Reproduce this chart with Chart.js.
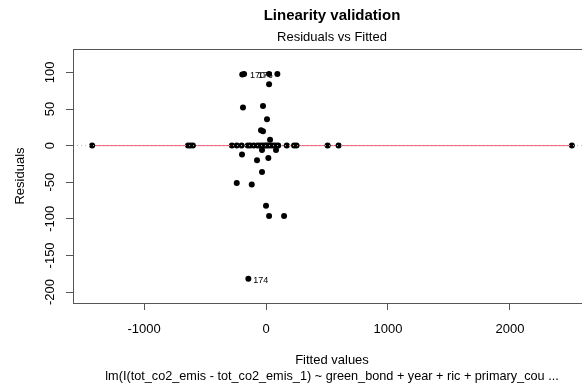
<!DOCTYPE html>
<html>
<head>
<meta charset="utf-8">
<script src="https://cdn.jsdelivr.net/npm/chart.js@4"></script>
<style>
html,body{margin:0;padding:0;background:#fff;overflow:hidden;}
canvas{display:block;}
</style>
</head>
<body>
<canvas id="c" width="600" height="385"></canvas>
<script>
// ---- data ----
const fittedZero = [-1426,-640,-620,-600,-280,-240,-200,-150,-130,-100,-70,-50,-30,-10,5,20,40,60,80,100,170,230,250,505,595,2508];
const residZero  = [0,0,0,0,0,0,0,0,0,0,0,0,0,0,0,0,0,0,0,0,0,0,0,0,0,0];
const fittedOther = [-195,-180,25,93,25,-189,-25,8,-41,-25,33,-197,-33,82,-74,19,-33,-240,-117,0,25,148,-145];
const residOther  = [97,98,98,98,84,52,54,36,21,19.5,8,-12,-6,-6,-20,-17,-36,-51,-53,-82,-96,-96,-182];
const smoothX = [-1426,-600,-200,0,200,600,2508];
const smoothY = [0,0,0,0,0,0,0];
const xTicks = [-1000,0,1000,2000];
const yTicks = [-200,-150,-100,-50,0,50,100];
const xRange = [-1583,2665];
const yRange = [-215,132];
const pointLabels = [
  {text:'174', x:-145, y:-182},
  {text:'170', x:-172, y:98},
  {text:'176', x:-108, y:98}
];
const titleText = 'Linearity validation';
const subTitleText = 'Residuals vs Fitted';
const xTitle = 'Fitted values';
const yTitle = 'Residuals';
const captionText = 'lm(I(tot_co2_emis - tot_co2_emis_1) ~ green_bond + year + ric + primary_cou ...';

const pts = [];
fittedZero.forEach((x,i)=>pts.push({x:x,y:residZero[i]}));
fittedOther.forEach((x,i)=>pts.push({x:x,y:residOther[i]}));

const FONT = "'Liberation Sans', Arial, Helvetica, sans-serif";

const decor = {
  id:'decor',
  afterDatasetsDraw(chart){
    const ctx = chart.ctx, a = chart.chartArea;
    const ys = chart.scales.y;
    // gray dotted zero line (drawn over, like abline)
    ctx.save();
    ctx.strokeStyle = '#bebebe';
    ctx.lineWidth = 1;
    ctx.setLineDash([1,3]);
    ctx.beginPath();
    const y0 = ys.getPixelForValue(0);
    ctx.moveTo(a.left, y0); ctx.lineTo(a.right, y0);
    ctx.stroke();
    ctx.restore();
  },
  afterDraw(chart){
    const ctx = chart.ctx, a = chart.chartArea;
    const xs = chart.scales.x, ys = chart.scales.y;
    ctx.save();
    // box
    ctx.strokeStyle = '#555';
    ctx.lineWidth = 1;
    ctx.strokeRect(a.left+0.5, a.top+0.5, a.right-a.left-1, a.bottom-a.top);
    ctx.fillStyle = '#000';
    // titles
    const cx = (a.left + a.right)/2;
    ctx.textAlign = 'center';
    ctx.textBaseline = 'middle';
    ctx.font = "bold 15px " + FONT;
    ctx.fillText(titleText, cx, 16);
    ctx.font = "13px " + FONT;
    ctx.fillText(subTitleText, cx, 37);
    ctx.fillText(xTitle, cx, 360);
    ctx.font = "12.7px " + FONT;
    ctx.fillText(captionText, cx, 376);
    ctx.font = "13px " + FONT;
    // x tick labels
    xTicks.forEach(v=>{
      ctx.fillText(String(v), xs.getPixelForValue(v), 329);
    });
    // y tick labels rotated
    yTicks.forEach(v=>{
      ctx.save();
      ctx.translate(50, ys.getPixelForValue(v));
      ctx.rotate(-Math.PI/2);
      ctx.fillText(String(v), 0, 0);
      ctx.restore();
    });
    ctx.save();
    ctx.translate(20, (a.top+a.bottom)/2);
    ctx.rotate(-Math.PI/2);
    ctx.fillText(yTitle, 0, 0);
    ctx.restore();
    // point labels
    ctx.textAlign = 'left';
    ctx.font = "9px " + FONT;
    pointLabels.forEach(p=>{
      ctx.fillText(p.text, xs.getPixelForValue(p.x)+5, ys.getPixelForValue(p.y)+2);
    });
    ctx.restore();
  }
};

new Chart(document.getElementById('c'), {
  type:'scatter',
  data:{
    datasets:[
      {
        type:'line',
        data: smoothX.map((x,i)=>({x:x,y:smoothY[i]})),
        borderColor:'#DF536B',
        borderWidth:1,
        pointRadius:0,
        fill:false,
        order:2
      },
      {
        data: pts,
        backgroundColor:'#000',
        borderColor:'#000',
        pointRadius:3,
        borderWidth:0,
        order:1
      }
    ]
  },
  options:{
    responsive:false,
    animation:false,
    events:[],
    layout:{padding:{top:49,right:9,left:0,bottom:0}},
    plugins:{legend:{display:false},tooltip:{enabled:false},title:{display:false}},
    scales:{
      x:{
        type:'linear',
        min:xRange[0], max:xRange[1],
        afterFit(s){ s.height = 82; },
        afterBuildTicks(s){ s.ticks = xTicks.map(v=>({value:v})); },
        grid:{drawOnChartArea:false, drawTicks:true, tickLength:7, color:'#555'},
        border:{display:false},
        ticks:{color:'rgba(0,0,0,0)', font:{size:12}}
      },
      y:{
        type:'linear',
        min:yRange[0], max:yRange[1],
        afterFit(s){ s.width = 73; },
        afterBuildTicks(s){ s.ticks = yTicks.map(v=>({value:v})); },
        grid:{drawOnChartArea:false, drawTicks:true, tickLength:7, color:'#555'},
        border:{display:false},
        ticks:{color:'rgba(0,0,0,0)', font:{size:12}}
      }
    }
  },
  plugins:[decor]
});
</script>
</body>
</html>
